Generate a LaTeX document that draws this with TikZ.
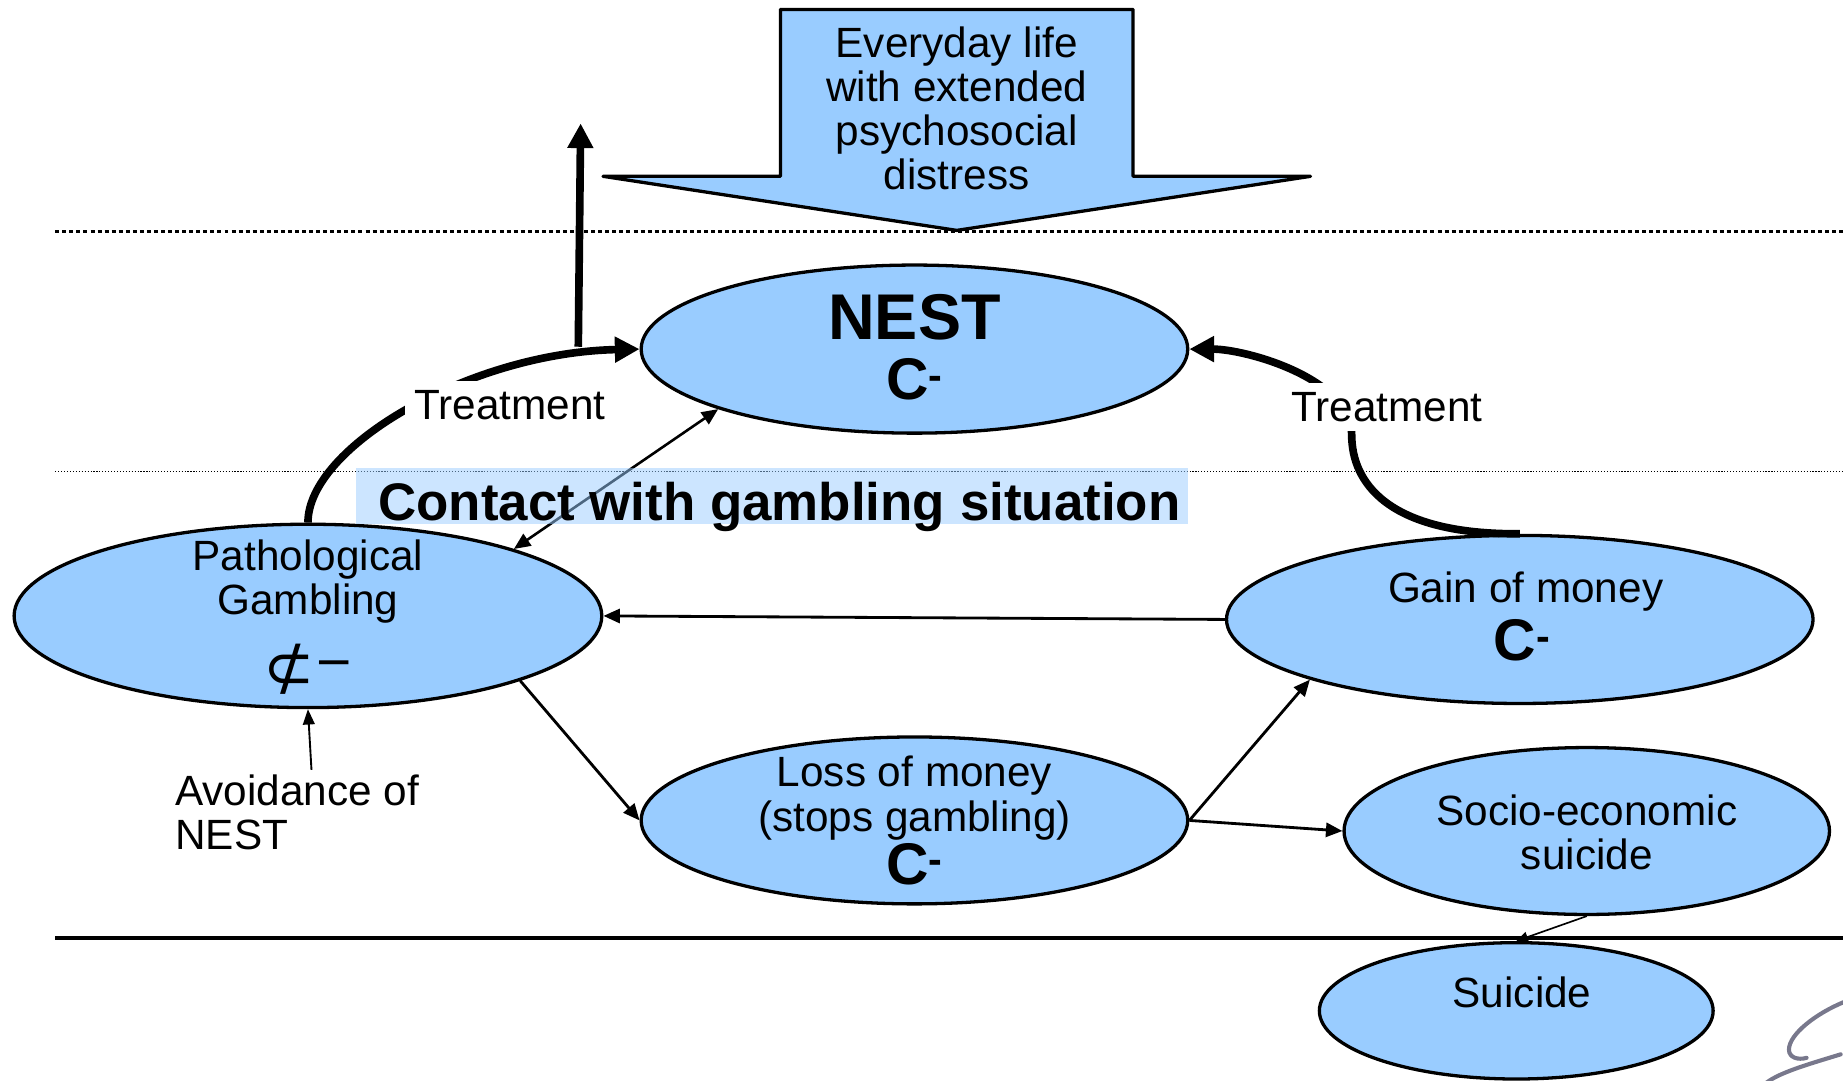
\documentclass[tikz,border=0pt]{standalone}
\usepackage{fontspec}
\setmainfont{Liberation Sans}
\newfontfamily\dejavu{DejaVu Sans}
\usetikzlibrary{arrows.meta,shapes.geometric}
\definecolor{fillblue}{RGB}{153,204,255}
\definecolor{squig}{RGB}{120,120,140}
\tikzset{
  state/.style={ellipse, draw=black, line width=2.8pt, fill=fillblue, inner sep=0pt},
  txt/.style={font=\fontsize{36}{37.5}\selectfont, align=center, inner sep=0pt},
  bigC/.style={font=\fontsize{50}{50}\selectfont\bfseries, inner sep=0pt},
  thinarrow/.style={line width=2.4pt, -{Triangle[length=14pt,width=12pt]}},
  thickarrow/.style={line width=6.5pt, -{Triangle[length=21pt,width=21pt]}},
  treatlabel/.style={txt, fill=white, inner sep=8pt},
}
\begin{document}
\begin{tikzpicture}[x=1pt,y=-1pt]
\useasboundingbox (0,0) rectangle (1568,919);

% separating lines
\draw[line width=2.5pt, dash pattern=on 3.4pt off 2.6pt] (47,197) -- (1568,197);
\draw[line width=1pt, dash pattern=on 1pt off 1.5pt] (47,401) -- (1568,401);
\draw[line width=2.8pt] (47,798) -- (1568,798);

% big arrow
\draw[line width=2.8pt, fill=fillblue, line join=round] (664,8) -- (964,8) -- (964,150) -- (1115,150) -- (814,196) -- (513,150) -- (664,150) -- cycle;
\node[txt] (life) at (814,92) {Everyday life\\with extended\\psychosocial\\distress};

% states
\node[state, minimum width=465pt, minimum height=143pt] (nest) at (778,297) {};
\node[font=\fontsize{55}{55}\selectfont\bfseries, inner sep=0pt] (nestT) at (778,270) {NEST};
\node[bigC] (nestC) at (778,323) {C\textsuperscript{-}};

\node[state, minimum width=500pt, minimum height=156pt] (pg) at (262,524) {};
\node[txt] (pgT) at (262,495) {Pathological\\Gambling};
\node[inner sep=0pt, font=\dejavu\fontsize{52}{52}\selectfont] (pgS) at (263,569) {⊄\textsuperscript{\fontsize{40}{40}\selectfont−}};

\node[state, minimum width=499pt, minimum height=143pt] (gain) at (1293,527) {};
\node[txt] (gainT) at (1298,503) {Gain of money};
\node[bigC] (gainC) at (1295,545) {C\textsuperscript{-}};

\node[state, minimum width=465pt, minimum height=142pt] (loss) at (778,698) {};
\node[txt] (lossT) at (778,679) {Loss of money\\(stops gambling)};
\node[bigC] (lossC) at (778,735) {C\textsuperscript{-}};

\node[state, minimum width=413pt, minimum height=142pt] (socio) at (1350,707) {};
\node[txt] (socioT) at (1350,708) {Socio-economic\\suicide};

\node[state, minimum width=335pt, minimum height=116pt] (suicide) at (1290,860) {};
\node[txt] (suicideT) at (1295,844) {Suicide};

% thin connectors
\draw[thinarrow] (gain.west) -- (pg.east);
\draw[thinarrow] (pg.-17) -- (loss.west);
\draw[thinarrow] (loss.east) -- (gain.196);
\draw[thinarrow] (loss.east) -- (socio.west);
\draw[line width=1.4pt, -{Triangle[length=10pt,width=9pt]}] (socio.south) -- (suicide.north);
\draw[line width=2.2pt, {Triangle[length=14pt,width=12pt]}-{Triangle[length=14pt,width=12pt]}] (nest.197) -- (pg.18);

% contact label (semi-transparent)
\node[fill=fillblue, fill opacity=0.5, minimum width=708pt, minimum height=48pt, inner sep=0pt] (contact) at (657,422) {};
\node[font=\fontsize{45}{45}\selectfont\bfseries, inner sep=0pt] (contactT) at (663,431) {Contact with gambling situation};

% avoidance
\node[txt, align=left, anchor=west] (avoid) at (149,691) {Avoidance of\\NEST};
\coordinate (avS) at (265,655);
\draw[line width=1.6pt, -{Triangle[length=13pt,width=10pt]}] (avS) -- (pg.south);

% treatment arrows
\draw[thickarrow] (pg.north) .. controls (262,380) and (400,300) .. (nest.west);
\coordinate (upS) at (492,295);
\coordinate (upE) at (494,105);
\draw[thickarrow] (upS) -- (upE);
\draw[thickarrow] (gain.north) .. controls (1180,455) and (1150,410) .. (1150,370) .. controls (1150,322) and (1060,297) .. (nest.east);
\node[treatlabel] (treatL) at (434,345) {Treatment};
\node[treatlabel] (treatR) at (1180,346) {Treatment};

% grey squiggle at the bottom right
\draw[squig, line width=3.5pt, line cap=round] (1570,852) .. controls (1545,862) and (1522,880) .. (1522,893) .. controls (1522,900) and (1530,902) .. (1537,900);
\draw[squig, line width=3.5pt, line cap=round] (1566,897) .. controls (1540,905) and (1515,912) .. (1503,921);
\end{tikzpicture}
\end{document}
